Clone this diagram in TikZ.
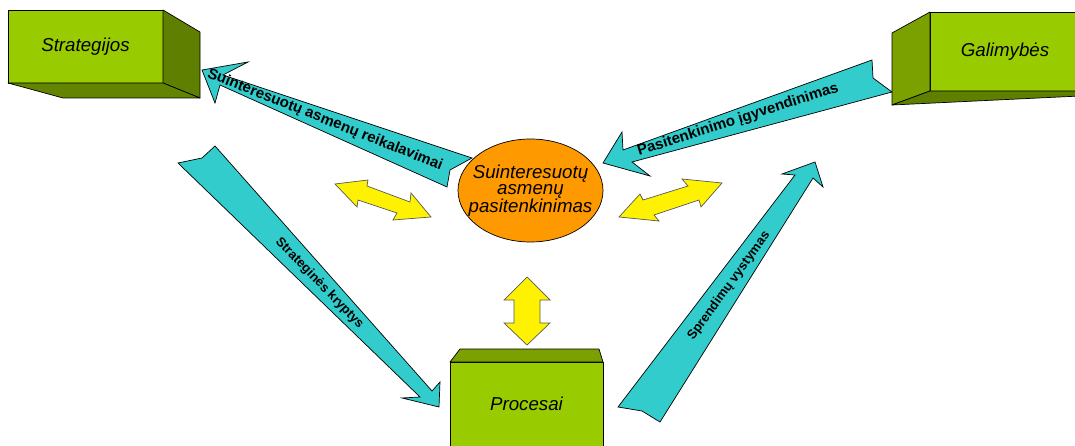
\documentclass[tikz,border=0pt]{standalone}
\usepackage{fontspec}
\setmainfont{Liberation Sans}
\usetikzlibrary{shapes.geometric,calc}

\definecolor{boxfront}{HTML}{99CC00}
\definecolor{boxside}{HTML}{7BA100}
\definecolor{boxdark}{HTML}{5F7F00}
\definecolor{flowcyan}{HTML}{33CCCC}
\definecolor{hub}{HTML}{FF9900}

\tikzset{
  face/.style={draw=black, line width=0.7pt, line join=round},
  front/.style={face, fill=boxfront, inner sep=0pt, outer sep=0pt,
    font=\fontsize{18.7}{20}\selectfont\itshape},
  flow/.style={draw=black, line width=0.7pt, fill=flowcyan, line join=miter},
  flowtext/.style={font=\fontsize{15}{15}\selectfont\bfseries, inner sep=0pt},
  flowsmall/.style={font=\fontsize{13}{13}\selectfont\bfseries, inner sep=0pt},
  link/.style={draw=black!65, line width=0.7pt, fill=yellow, line join=miter},
}

\begin{document}
\begin{tikzpicture}[x=1pt,y=-1pt]
\clip (0,0) rectangle (1075,446);
\fill[white] (0,0) rectangle (1075,446);

% ---- Strategijos block
\node[front, minimum width=155pt, minimum height=73pt] (strat) at (85.5,46.5) {Strategijos};
\draw[face, fill=boxdark] (strat.north east) -- ++(37,22)
  -- ($(strat.south east)+(37,15)$) -- (strat.south east) -- cycle;
\draw[face, fill=boxdark!85!boxside] (strat.south west) -- (strat.south east)
  -- ($(strat.south east)+(37,15)$) -- ($(strat.south west)+(55,15)$) -- cycle;

% ---- Galimybės block
\node[front, minimum width=150pt, minimum height=79pt] (gal) at (1005,51.5) {Galimybės};
\draw[face, fill=boxside] (gal.north west) -- ++(-38,21)
  -- ($(gal.south west)+(-38,14)$) -- (gal.south west) -- cycle;
\draw[face, fill=boxdark] ($(gal.south west)+(-38,14)$) -- (gal.south west)
  -- (gal.south east) -- ($(gal.south east)+(0,5)$) -- cycle;

% ---- Procesai block
\node[front, draw=none, minimum width=153pt, minimum height=84pt] (proc) at (526.5,404) {Procesai};
\draw[face] (proc.south west) -- (proc.north west) -- (proc.north east) -- (proc.south east);
\draw[face, fill=boxside] (proc.north west) -- ++(10,-13)
  -- ($(proc.north east)+(-4,-13)$) -- (proc.north east) -- cycle;

% ---- central hub
\node[ellipse, draw=black, line width=0.7pt, fill=hub, minimum width=145pt,
  minimum height=103pt, inner sep=0pt] (sat) at (530.5,190.5) {};
\node[align=center, inner sep=0pt, font=\fontsize{18.7}{16}\selectfont\itshape]
  (satText) at (sat.center) {Suinteresuotų\\asmenų\\pasitenkinimas};

% ---- flow arrows
\coordinate (aTip) at (202,70);
\draw[flow] (aTip) -- (248,62) -- (223,75) -- (472,158) -- (450,170)
  -- (447,187) -- (220,85) -- (215,103) -- cycle;
\node[flowtext, rotate=-21.7] (aLbl) at (325,120) {Suinteresuotų asmenų reikalavimai};

\coordinate (bTip) at (603,163);
\draw[flow] (bTip) -- (622,132) -- (623,150) -- (872,60) -- (873,78)
  -- (892,92) -- (632,162) -- (650,176) -- cycle;
\node[flowtext, rotate=17.7] (bLbl) at (738,120) {Pasitenkinimo įgyvendinimas};

\coordinate (cTip) at (439,407);
\draw[flow] (178,163) -- (202,158) -- (215,146) -- (432,391) -- (440,382)
  -- (cTip) -- (402,398) -- (420,397) -- cycle;
\node[flowsmall, rotate=-46] (cLbl) at (319.5,283.5) {Strateginės kryptys};

\coordinate (dTip) at (815,162);
\draw[flow] (dTip) -- (782,174) -- (795,175) -- (618,407) -- (642,411)
  -- (660,422) -- (813,178) -- (823,187) -- cycle;
\node[flowsmall, rotate=54] (dLbl) at (729,286) {Sprendimų vystymas};

% ---- two-way links around the hub
\draw[link] (335,184) -- (368,180) -- (367,186) -- (410,202) -- (411,193)
  -- (431,217) -- (393,220) -- (397,213) -- (358,200) -- (357,207) -- cycle;
\draw[link] (619,217) -- (640,194) -- (643,200) -- (688,186) -- (682,179)
  -- (722,183) -- (701,207) -- (699,200) -- (654,215) -- (659,221) -- cycle;
\draw[link] (527,277) -- (550,300) -- (540,300) -- (540,323) -- (550,323)
  -- (527,345) -- (504,323) -- (514,323) -- (514,300) -- (504,300) -- cycle;
\end{tikzpicture}
\end{document}
